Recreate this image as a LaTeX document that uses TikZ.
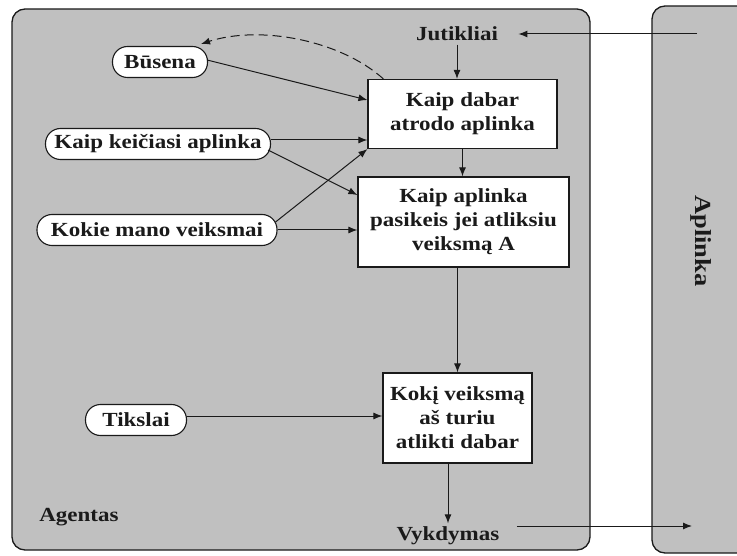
\documentclass[tikz,border=0pt]{standalone}
\usepackage{fontspec}
\setmainfont{Liberation Serif}[FakeStretch=1.15]
\usetikzlibrary{arrows.meta,calc}
\definecolor{panelgray}{HTML}{C0C0C0}
\definecolor{ink}{HTML}{1A1A1A}
\begin{document}
\begin{tikzpicture}[x=1pt,y=-1pt,
  every node/.style={font=\fontsize{20}{24}\selectfont\bfseries, text=ink},
  panel/.style={draw=ink, line width=1.3pt, fill=panelgray, rounded corners=13pt},
  procbox/.style={draw=ink, line width=1.2pt, fill=white, align=center, inner sep=0pt},
  pill/.style={draw=ink, line width=1.1pt, fill=white, rounded corners=15pt, inner sep=0pt, minimum height=31pt},
  conn/.style={draw=ink, line width=1pt, -{Latex[length=9pt,width=7pt]}},
  dashconn/.style={conn, dash pattern=on 9pt off 5pt}
]
\clip (0,0) rectangle (737,556);
\fill[white] (0,0) rectangle (737,556);
% panels
\path[panel] (12,9) rectangle (590,550);
\path[panel] (652,6) rectangle (780,553);
\node[rotate=-90, font=\fontsize{23}{27}\selectfont\bfseries] (aplinka) at (701,241) {Aplinka};
\node (agentas) at (79,517) {Agentas};
% boxes
\node[procbox, minimum width=189pt, minimum height=69pt] (box1) at (462.5,114) {Kaip dabar\\atrodo aplinka};
\node[procbox, minimum width=211pt, minimum height=90pt] (box2) at (463.5,222) {Kaip aplinka\\pasikeis jei atliksiu\\veiksmą A};
\node[procbox, minimum width=149pt, minimum height=90pt] (box3) at (457.5,418) {Kokį veiksmą\\aš turiu\\atlikti dabar};
% pills
\node[pill, minimum width=95pt] (busena) at (160,62) {Būsena};
\node[pill, minimum width=225pt] (keic) at (158,144) {Kaip keičiasi aplinka};
\node[pill, minimum width=240pt] (kokie) at (157,230) {Kokie mano veiksmai};
\node[pill, minimum width=101pt] (tiks) at (136,420) {Tikslai};
% sensors / effectors
\node (jut) at (457,34) {Jutikliai};
\node (vyk) at (448,536) {Vykdymas};
\coordinate (envin) at (697,34);
\coordinate (envout) at (692,526);
% connectors
\draw[conn] (envin) -- ([xshift=17pt]jut.east);
\draw[conn] (jut.south) -- (jut.south |- box1.north);
\draw[conn] (box1.south) -- (box1.south |- box2.north);
\draw[conn] (box2.south -| box3.north) -- (box3.north);
\draw[conn] (box3.south -| vyk.north) -- (vyk.north);
\draw[conn] ([xshift=14pt]vyk.east |- envout) -- (envout);
\draw[conn] ([xshift=-1pt,yshift=2pt]busena.east) -- ([yshift=14pt]box1.west);
\draw[conn] ([yshift=4pt]keic.east) -- ([yshift=4pt]keic.east -| box1.west);
\draw[conn] ([xshift=-3pt,yshift=-6pt]keic.east) -- ([yshift=27pt]box2.west);
\draw[conn] ([xshift=-2pt,yshift=8pt]kokie.east) -- (box1.south west);
\draw[conn] (kokie.east) -- (kokie.east -| box2.west);
\draw[conn] ([yshift=4pt]tiks.east) -- ([yshift=4pt]tiks.east -| box3.west);
\draw[dashconn] ([xshift=16pt]box1.north west) .. controls (340,40) and (260,25) .. ([xshift=-7pt,yshift=2pt]busena.north east);
\end{tikzpicture}
\end{document}
